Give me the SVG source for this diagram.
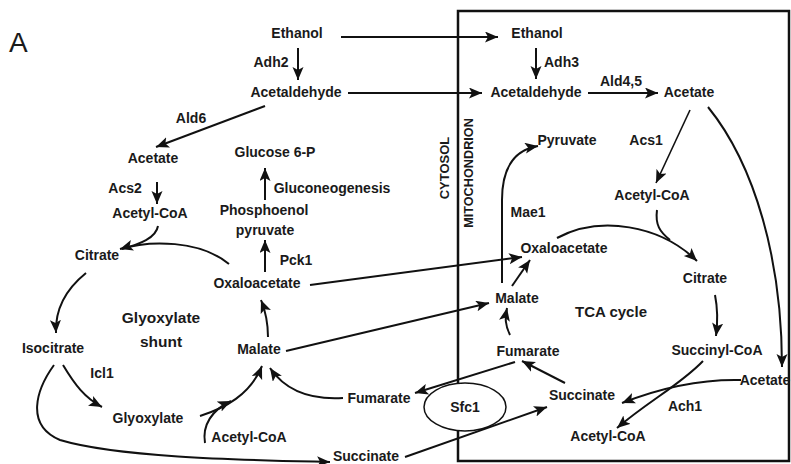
<svg xmlns="http://www.w3.org/2000/svg" width="791" height="464" viewBox="0 0 791 464">
<style>
text{font-family:"Liberation Sans",Arial,sans-serif;font-weight:bold;font-size:14px;fill:#1a1a1a;text-anchor:middle}
.c path{fill:none;stroke:#111;stroke-width:2}
.a{marker-end:url(#ah)}
.big{font-size:15.5px}
</style>
<defs>
<marker id="ah" markerUnits="userSpaceOnUse" markerWidth="14" markerHeight="12" refX="13" refY="5.5" orient="auto">
<path d="M0,0 L13,5.5 L0,11 L3,5.5 z" fill="#111"/>
</marker>
</defs>
<rect width="791" height="464" fill="#fff"/>
<text x="9" y="52" style="font-weight:normal;font-size:28px;text-anchor:start">A</text>
<g id="compartment">
<rect x="458" y="11" width="331" height="450" fill="none" stroke="#111" stroke-width="2.5"/>
<text transform="translate(449,168) rotate(-90)" style="font-size:13px">CYTOSOL</text>
<text transform="translate(473,173) rotate(-90)" style="font-size:12.7px">MITOCHONDRION</text>
</g>
<g id="sfc1"><ellipse cx="465" cy="407" rx="41" ry="24" fill="#fff" stroke="#111" stroke-width="1.5"/><text x="465" y="412">Sfc1</text></g>
<g class="c" id="connectors">
<path class="a" d="M341,37 H498"/>
<path class="a" d="M298,48 V80"/>
<path class="a" d="M348,93 H482"/>
<path class="a" d="M265,106 L156,147"/>
<path class="a" d="M157,182 V204"/>
<path d="M158,226 C156,238 140,244 122,249"/>
<path class="a" d="M229,264 C200,240 150,240 120,249"/>
<path class="a" d="M265,200 V168"/>
<path class="a" d="M265,272 V240"/>
<path class="a" d="M86,273 C65,290 55,310 56,333"/>
<path class="a" d="M63,365 C75,385 85,398 102,407"/>
<path class="a" d="M54,365 C36,390 25,425 60,440 C120,458 250,460 330,462"/>
<path class="a" d="M200,416 C225,408 250,395 262,366"/>
<path class="a" d="M205,443 C202,425 212,410 231,401"/>
<path class="a" d="M343,398 C310,400 285,390 270,368"/>
<path class="a" d="M268,337 C268,320 265,310 261,300"/>
<path class="a" d="M310,285 L522,257"/>
<path class="a" d="M286,351 L489,303"/>
<path class="a" d="M515,362 L415,393"/>
<path class="a" d="M405,457 L547,407"/>
<path class="a" d="M536,48 V79"/>
<path class="a" d="M588,93 H658"/>
<path class="a" d="M690,110 L656,183" style="stroke-width:1.6"/>
<path class="a" d="M708,107 C755,165 782,260 782,367"/>
<path class="a" d="M502,283 V200 Q502,152 538,146"/>
<path class="a" d="M512,286 L530,260"/>
<path class="a" d="M557,238 C600,215 660,225 697,261"/>
<path d="M657,210 C655,225 660,232 670,240"/>
<path class="a" d="M715,295 C718,310 718,320 716,336"/>
<path class="a" d="M703,361 C680,385 650,400 617,428"/>
<path class="a" d="M741,380 C700,379 660,388 622,403"/>
<path class="a" d="M565,383 L522,361"/>
<path class="a" d="M510,335 C505,325 505,318 507,308"/>
</g>
<g id="ethanol_c"><text x="297" y="38">Ethanol</text></g>
<g id="adh2"><text x="271" y="67">Adh2</text></g>
<g id="acetaldehyde_c"><text x="296" y="97">Acetaldehyde</text></g>
<g id="ald6"><text x="191" y="123">Ald6</text></g>
<g id="acetate_c"><text x="153" y="163">Acetate</text></g>
<g id="glucose6p"><text x="275" y="157">Glucose 6-P</text></g>
<g id="acs2"><text x="125" y="193">Acs2</text></g>
<g id="acetylcoa_c1"><text x="150" y="218">Acetyl-CoA</text></g>
<g id="gluconeogenesis"><text x="332" y="193">Gluconeogenesis</text></g>
<g id="pep"><text x="264" y="215">Phosphoenol</text><text x="265" y="235">pyruvate</text></g>
<g id="pck1"><text x="296" y="265">Pck1</text></g>
<g id="citrate_c"><text x="97" y="260">Citrate</text></g>
<g id="oaa_c"><text x="257" y="288">Oxaloacetate</text></g>
<g id="shunt"><text class="big" x="161" y="323">Glyoxylate</text><text class="big" x="161" y="347">shunt</text></g>
<g id="isocitrate"><text x="53" y="353">Isocitrate</text></g>
<g id="malate_c"><text x="259" y="354">Malate</text></g>
<g id="icl1"><text x="102" y="378">Icl1</text></g>
<g id="fumarate_c"><text x="379" y="403">Fumarate</text></g>
<g id="glyoxylate"><text x="148" y="423">Glyoxylate</text></g>
<g id="acetylcoa_c2"><text x="249" y="442">Acetyl-CoA</text></g>
<g id="succinate_c"><text x="366" y="461">Succinate</text></g>
<g id="ethanol_m"><text x="537" y="38">Ethanol</text></g>
<g id="adh3"><text x="544" y="67" style="text-anchor:start">Adh3</text></g>
<g id="acetaldehyde_m"><text x="536" y="97">Acetaldehyde</text></g>
<g id="ald45"><text x="621" y="86">Ald4,5</text></g>
<g id="acetate_m1"><text x="689" y="97">Acetate</text></g>
<g id="acs1"><text x="646" y="145">Acs1</text></g>
<g id="pyruvate"><text x="567" y="145">Pyruvate</text></g>
<g id="acetylcoa_m1"><text x="652" y="200">Acetyl-CoA</text></g>
<g id="mae1"><text x="528" y="217">Mae1</text></g>
<g id="oaa_m"><text x="564" y="253">Oxaloacetate</text></g>
<g id="citrate_m"><text x="705" y="283">Citrate</text></g>
<g id="malate_m"><text x="517" y="303">Malate</text></g>
<g id="tca"><text x="611" y="317" style="font-size:15px">TCA cycle</text></g>
<g id="fumarate_m"><text x="528" y="356">Fumarate</text></g>
<g id="succinylcoa"><text x="717" y="355">Succinyl-CoA</text></g>
<g id="acetate_m2"><text x="765" y="385">Acetate</text></g>
<g id="succinate_m"><text x="582" y="400">Succinate</text></g>
<g id="ach1"><text x="685" y="411">Ach1</text></g>
<g id="acetylcoa_m2"><text x="608" y="441">Acetyl-CoA</text></g>
</svg>
